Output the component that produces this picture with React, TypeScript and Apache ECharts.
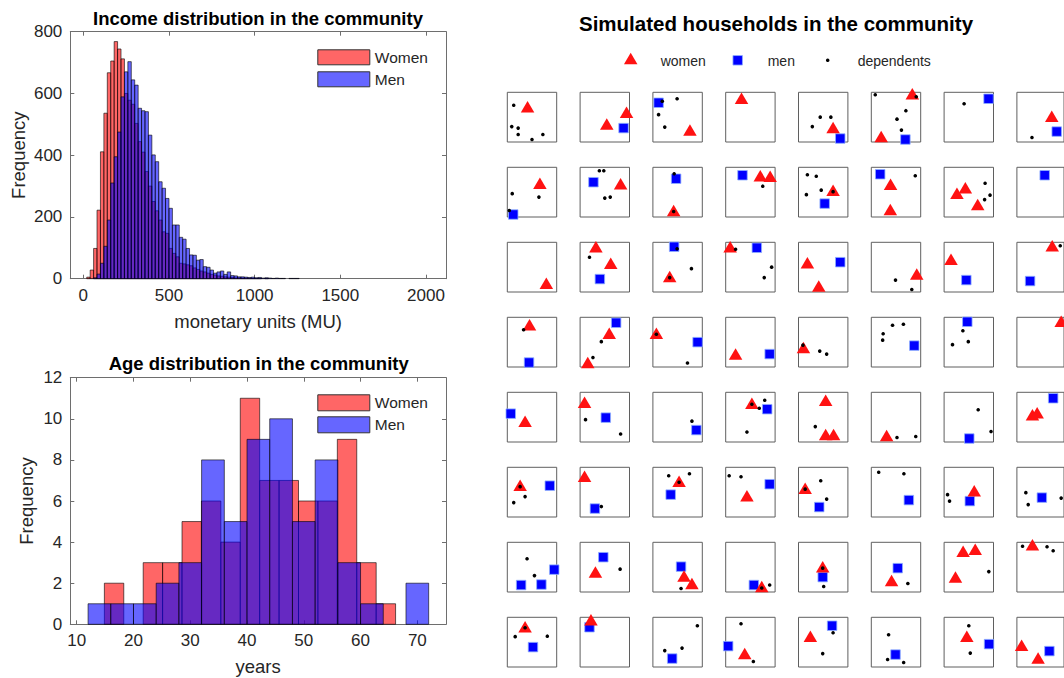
import React, { useEffect, useRef } from "react";
import * as echarts from "echarts";

const FONT = "'Liberation Sans', Arial, Helvetica, sans-serif";
const TXT = "#262626";
const AXC = "#6e6e6e";

// ---------- Income histogram (bins of 20 MU starting at 20) ----------
const INCOME_BIN_START = 20;
const INCOME_BIN_WIDTH = 20;
const INCOME_WOMEN = [
  5, 28, 98, 222, 411, 536, 667, 705, 768, 744, 712, 600, 578, 565, 503, 444, 410, 347, 300, 250,
  220, 190, 152, 147, 98, 82, 71, 50, 48, 45, 42, 35, 30, 25, 22, 18, 14, 12, 9, 8,
  6, 5, 4, 3, 3, 2, 2, 1, 1, 1, 1, 0, 1,
];
const INCOME_MEN = [
  0, 0, 3, 15, 50, 105, 190, 310, 395, 475, 589, 670, 703, 644, 627, 552, 544, 541, 465, 401,
  379, 314, 293, 260, 228, 174, 174, 134, 128, 98, 77, 76, 60, 62, 39, 37, 28, 18, 22, 25,
  14, 22, 10, 9, 6, 6, 5, 4, 5, 3, 4, 2, 3, 2, 1, 2, 1, 1, 0, 1, 1, 1,
];
const INCOME_X_TICKS = [0, 500, 1000, 1500, 2000];

// ---------- Age histogram ----------
const AGE_WOMEN_EDGES = [14.87, 18.29, 21.71, 25.13, 28.55, 31.97, 35.39, 38.81, 42.23, 45.65, 49.07, 52.49, 55.91, 59.33, 62.75, 66.17];
const AGE_WOMEN = [2, 0, 3, 3, 5, 6, 4, 11, 7, 7, 6, 6, 9, 3, 1];
const AGE_MEN_EDGES = [12, 16, 20, 24, 28, 32, 36, 40, 44, 48, 52, 56, 60, 64, 68, 72];
const AGE_MEN = [1, 1, 1, 2, 3, 8, 5, 9, 10, 5, 8, 3, 1, 0, 2];
const AGE_X_TICKS = [10, 20, 30, 40, 50, 60, 70];

// ---------- Simulated households (8 x 8, row-major, positions in box units 0..1) ----------
const HH_WOMEN = [
  [[0.41, 0.71]], [[0.94, 0.6], [0.54, 0.36]], [[0.75, 0.24]], [[0.32, 0.88]], [[0.7, 0.29]], [[0.83, 0.97], [0.2, 0.11]], [], [[0.74, 0.52]],
  [[0.66, 0.68]], [[0.82, 0.67]], [[0.42, 0.13]], [[0.7, 0.83], [0.9, 0.82]], [[0.7, 0.54]], [[0.39, 0.66], [0.385, 0.15]], [[0.43, 0.59], [0.26, 0.48], [0.68, 0.25]], [],
  [[0.79, 0.175]], [[0.32, 0.91], [0.62, 0.58]], [[0.34, 0.31]], [[0.09, 0.91]], [[0.18, 0.59], [0.41, 0.12]], [[0.92, 0.36]], [[0.14, 0.66]], [[0.75, 0.93]],
  [[0.45, 0.85]], [[0.59, 0.68], [0.155, 0.09]], [[0.07, 0.68]], [[0.2, 0.26]], [[0.1, 0.39]], [], [], [[0.94, 0.92]],
  [[0.36, 0.42]], [[0.09, 0.8]], [], [[0.53, 0.78]], [[0.55, 0.84], [0.55, 0.15], [0.71, 0.15]], [[0.31, 0.13]], [], [[0.33, 0.55], [0.43, 0.59]],
  [[0.26, 0.64]], [[0.09, 0.82]], [[0.53, 0.72]], [[0.43, 0.43]], [[0.135, 0.58]], [], [[0.61, 0.53]], [],
  [], [[0.31, 0.4]], [[0.63, 0.32], [0.79, 0.17]], [[0.73, 0.11]], [[0.49, 0.51]], [[0.41, 0.23]], [[0.385, 0.82], [0.63, 0.86], [0.23, 0.3]], [[0.33, 0.95]],
  [[0.36, 0.81]], [[0.22, 0.95]], [], [[0.385, 0.27]], [[0.24, 0.62]], [], [[0.46, 0.62]], [[0.1, 0.44], [0.45, 0.18]],
];
const HH_MEN = [
  [], [[0.88, 0.28]], [[0.115, 0.79]], [], [[0.845, 0.07]], [[0.69, 0.05]], [[0.9, 0.87]], [[0.845, 0.21]],
  [[0.12, 0.05]], [[0.27, 0.7]], [[0.47, 0.77]], [[0.34, 0.84]], [[0.53, 0.27]], [[0.18, 0.86]], [], [[0.59, 0.84]],
  [], [[0.4, 0.26]], [[0.43, 0.91]], [[0.63, 0.89]], [[0.845, 0.6]], [], [[0.45, 0.24]], [[0.28, 0.22]],
  [[0.44, 0.09]], [[0.73, 0.89]], [[0.905, 0.5]], [[0.89, 0.26]], [], [[0.87, 0.43]], [[0.47, 0.91]], [],
  [[0.07, 0.57]], [[0.52, 0.49]], [[0.88, 0.24]], [[0.84, 0.66]], [], [], [[0.51, 0.07]], [[0.77, 0.88]],
  [[0.86, 0.63]], [[0.3, 0.17]], [[0.36, 0.45]], [[0.89, 0.66]], [[0.42, 0.2]], [[0.76, 0.34]], [[0.52, 0.32]], [[0.53, 0.39]],
  [[0.95, 0.45], [0.28, 0.14], [0.69, 0.15]], [[0.47, 0.7]], [[0.57, 0.51]], [[0.57, 0.14]], [[0.49, 0.3]], [[0.535, 0.48]], [], [],
  [[0.52, 0.4]], [[0.19, 0.8]], [[0.39, 0.17]], [[0.05, 0.42]], [[0.68, 0.83]], [[0.49, 0.25]], [[0.91, 0.46]], [[0.69, 0.32]],
];
const HH_DEPENDENTS = [
  [[0.13, 0.74], [0.09, 0.31], [0.22, 0.28], [0.22, 0.15], [0.5, 0.05], [0.72, 0.15]], [], [[0.19, 0.82], [0.49, 0.87], [0.115, 0.55], [0.24, 0.3]], [], [[0.44, 0.5], [0.655, 0.5], [0.28, 0.31]], [[0.08, 0.95], [0.91, 0.91], [0.7, 0.63], [0.52, 0.46], [0.61, 0.24]], [[0.405, 0.77]], [[0.32, 0.09]],
  [[0.1, 0.47], [0.64, 0.4], [0.04, 0.13]], [[0.39, 0.93], [0.48, 0.93], [0.5, 0.38], [0.61, 0.4]], [[0.43, 0.87], [0.42, 0.11]], [[0.75, 0.62]], [[0.18, 0.85], [0.36, 0.82], [0.16, 0.45], [0.46, 0.54], [0.7, 0.51]], [[0.89, 0.83]], [[0.83, 0.68], [0.93, 0.44], [0.82, 0.35]], [],
  [], [[0.19, 0.7]], [[0.49, 0.87], [0.78, 0.47], [0.34, 0.29]], [[0.2, 0.86], [0.93, 0.5], [0.78, 0.29]], [], [[0.49, 0.24], [0.82, 0.05]], [], [[0.92, 0.93]],
  [[0.33, 0.75]], [[0.43, 0.51], [0.26, 0.19]], [[0.07, 0.66], [0.7, 0.08]], [], [[0.09, 0.44], [0.43, 0.32], [0.57, 0.26]], [[0.43, 0.84], [0.65, 0.86], [0.24, 0.67], [0.23, 0.54]], [[0.38, 0.73], [0.17, 0.45], [0.49, 0.51]], [],
  [], [[0.11, 0.45], [0.82, 0.16]], [[0.79, 0.42]], [[0.53, 0.76], [0.68, 0.68], [0.79, 0.84], [0.43, 0.2]], [[0.34, 0.31]], [[0.52, 0.09], [0.9, 0.11]], [[0.69, 0.65], [0.95, 0.21]], [],
  [[0.26, 0.61], [0.36, 0.41], [0.13, 0.29]], [[0.43, 0.21]], [[0.32, 0.83], [0.74, 0.87], [0.53, 0.7]], [[0.07, 0.83], [0.31, 0.81]], [[0.45, 0.73], [0.135, 0.56], [0.57, 0.36]], [[0.15, 0.9], [0.66, 0.87]], [[0.07, 0.45], [0.11, 0.32]], [[0.19, 0.49], [0.24, 0.25], [0.94, 0.38]],
  [[0.4, 0.67], [0.55, 0.33]], [[0.81, 0.46]], [[0.57, 0.07]], [[0.73, 0.08], [0.89, 0.14]], [[0.49, 0.48], [0.51, 0.11]], [[0.74, 0.17]], [[0.905, 0.41]], [[0.12, 0.92], [0.64, 0.91], [0.77, 0.83]],
  [[0.36, 0.79], [0.16, 0.61], [0.81, 0.62]], [], [[0.9, 0.83], [0.59, 0.38], [0.24, 0.33]], [[0.31, 0.87], [0.56, 0.11]], [[0.7, 0.69], [0.49, 0.27]], [[0.35, 0.65], [0.33, 0.15], [0.655, 0.09]], [[0.5, 0.83], [0.53, 0.28]], [],
];
const HH_LEGEND_LABELS = ["women", "men", "dependents"];

// ---------- styling ----------
const WOMEN_FILL = "rgba(255,0,0,0.6)";
const MEN_FILL = "rgba(0,0,255,0.6)";
const BAR_EDGE = "rgba(0,0,0,0.8)";
const TRI_COLOR = "#ff1212";
const SQ_COLOR = "#0000ff";
const TRI_SIZE = [13.5, 11.5];
const SQ_SIZE = 9.5;
const DOT_SIZE = 3.6;

const HH_COLS = 8;
const HH_LEFT0 = 507.3;
const HH_DX = 72.8;
const HH_TOP0 = 92.3;
const HH_DY = 75;
const HH_W = 49.4;
const HH_H = 49.7;

function histRenderer(fill: string) {
  return (params: any, api: any) => {
    const lo = api.value(0);
    const hi = api.value(1);
    const c = api.value(2);
    if (!c) return null;
    const a = api.coord([lo, c]);
    const b = api.coord([hi, 0]);
    return {
      type: "rect",
      shape: { x: a[0], y: a[1], width: b[0] - a[0], height: b[1] - a[1] },
      style: { fill, stroke: BAR_EDGE, lineWidth: 0.75 },
    };
  };
}

function boxAxes(gridIndex: number, xmin: number, xmax: number, ymin: number, ymax: number, yInterval: number, xTicks: number[], xName: string, yNameGap: number) {
  const line = { show: true, onZero: false, lineStyle: { color: AXC, width: 1 } };
  const tick = { show: true, inside: true, length: 4, lineStyle: { color: AXC, width: 1 } };
  const xa = [
    {
      type: "value", gridIndex, min: xmin, max: xmax, position: "bottom",
      axisLine: line,
      axisTick: { ...tick, customValues: xTicks },
      axisLabel: { customValues: xTicks, color: TXT, fontSize: 17, margin: 8, fontFamily: FONT, formatter: (v: number) => String(v) },
      splitLine: { show: false },
      name: xName, nameLocation: "middle", nameGap: 33,
      nameTextStyle: { fontSize: 18.5, color: TXT, fontFamily: FONT },
    },
    {
      type: "value", gridIndex, min: xmin, max: xmax, position: "top",
      axisLine: line,
      axisTick: { ...tick, customValues: xTicks },
      axisLabel: { show: false, customValues: xTicks },
      splitLine: { show: false },
    },
  ];
  const ya = [
    {
      type: "value", gridIndex, min: ymin, max: ymax, interval: yInterval, position: "left",
      axisLine: line, axisTick: tick,
      axisLabel: { color: TXT, fontSize: 17, margin: 8, fontFamily: FONT },
      splitLine: { show: false },
      name: "Frequency", nameLocation: "middle", nameGap: yNameGap,
      nameTextStyle: { fontSize: 18.5, color: TXT, fontFamily: FONT },
    },
    {
      type: "value", gridIndex, min: ymin, max: ymax, interval: yInterval, position: "right",
      axisLine: line, axisTick: tick, axisLabel: { show: false }, splitLine: { show: false },
    },
  ];
  return { xa, ya };
}

function householdLegend() {
  // icons + labels above the household grid
  const cy = 60.3;
  const textStyle = (text: string, x: number) => ({
    type: "text",
    style: { text, x, y: cy + 0.5, fill: TXT, fontSize: 14, fontFamily: FONT, align: "left", verticalAlign: "middle" },
    silent: true,
  });
  const triX = 630.7;
  const sqX = 737.7;
  const dotX = 827.7;
  return [
    {
      type: "polygon",
      shape: {
        points: [
          [triX - TRI_SIZE[0] / 2, cy - 1.8 + TRI_SIZE[1] / 2],
          [triX + TRI_SIZE[0] / 2, cy - 1.8 + TRI_SIZE[1] / 2],
          [triX, cy - 1.8 - TRI_SIZE[1] / 2],
        ],
      },
      style: { fill: TRI_COLOR },
      silent: true,
    },
    textStyle(HH_LEGEND_LABELS[0], triX + 30),
    {
      type: "rect",
      shape: { x: sqX - SQ_SIZE / 2, y: cy - SQ_SIZE / 2, width: SQ_SIZE, height: SQ_SIZE },
      style: { fill: SQ_COLOR, stroke: "#8fb0ff", lineWidth: 0.8 },
      silent: true,
    },
    textStyle(HH_LEGEND_LABELS[1], sqX + 30),
    {
      type: "circle",
      shape: { cx: dotX, cy, r: DOT_SIZE / 2 },
      style: { fill: "#000" },
      silent: true,
    },
    textStyle(HH_LEGEND_LABELS[2], dotX + 30),
  ];
}

function buildOption() {
  const grids: any[] = [
    { left: 70.3, top: 31.7, width: 375.7, height: 247 },
    { left: 70.3, top: 377.7, width: 375.7, height: 246.6 },
  ];
  const inc = boxAxes(0, -76, 2117, 0, 800, 200, INCOME_X_TICKS, "monetary units (MU)", 42);
  const age = boxAxes(1, 8.87, 75.05, 0, 12, 2, AGE_X_TICKS, "years", 34);
  const xAxis: any[] = [...inc.xa, ...age.xa];
  const yAxis: any[] = [...inc.ya, ...age.ya];

  const incomeRows = (counts: number[]) =>
    counts.map((c, i) => [INCOME_BIN_START + i * INCOME_BIN_WIDTH, INCOME_BIN_START + (i + 1) * INCOME_BIN_WIDTH, c]);
  const ageRows = (edges: number[], counts: number[]) => counts.map((c, i) => [edges[i], edges[i + 1], c]);

  const series: any[] = [
    {
      type: "custom", name: "Women", xAxisIndex: 0, yAxisIndex: 0,
      data: incomeRows(INCOME_WOMEN), encode: { x: [0, 1], y: 2 },
      renderItem: histRenderer(WOMEN_FILL), itemStyle: { color: WOMEN_FILL }, silent: true,
    },
    {
      type: "custom", name: "Men", xAxisIndex: 0, yAxisIndex: 0,
      data: incomeRows(INCOME_MEN), encode: { x: [0, 1], y: 2 },
      renderItem: histRenderer(MEN_FILL), itemStyle: { color: MEN_FILL }, silent: true,
    },
    {
      type: "custom", name: "Women", xAxisIndex: 2, yAxisIndex: 2,
      data: ageRows(AGE_WOMEN_EDGES, AGE_WOMEN), encode: { x: [0, 1], y: 2 },
      renderItem: histRenderer(WOMEN_FILL), itemStyle: { color: WOMEN_FILL }, silent: true,
    },
    {
      type: "custom", name: "Men", xAxisIndex: 2, yAxisIndex: 2,
      data: ageRows(AGE_MEN_EDGES, AGE_MEN), encode: { x: [0, 1], y: 2 },
      renderItem: histRenderer(MEN_FILL), itemStyle: { color: MEN_FILL }, silent: true,
    },
  ];

  const nHH = HH_WOMEN.length;
  for (let i = 0; i < nHH; i++) {
    const r = Math.floor(i / HH_COLS);
    const c = i % HH_COLS;
    grids.push({
      left: HH_LEFT0 + c * HH_DX, top: HH_TOP0 + r * HH_DY, width: HH_W, height: HH_H,
      show: true, borderColor: "#5f5f5f", borderWidth: 1, backgroundColor: "transparent",
    });
    const gi = grids.length - 1;
    xAxis.push({ type: "value", gridIndex: gi, min: 0, max: 1, show: false });
    yAxis.push({ type: "value", gridIndex: gi, min: 0, max: 1, show: false });
    const ax = xAxis.length - 1;
    const data = [
      ...HH_MEN[i].map((p) => ({
        value: p, symbol: "rect", symbolSize: SQ_SIZE,
        itemStyle: { color: SQ_COLOR, borderColor: "#8fb0ff", borderWidth: 0.8, opacity: 1 },
      })),
      ...HH_WOMEN[i].map((p) => ({
        value: p, symbol: "triangle", symbolSize: TRI_SIZE,
        itemStyle: { color: TRI_COLOR, opacity: 1 },
      })),
      ...HH_DEPENDENTS[i].map((p) => ({
        value: p, symbol: "circle", symbolSize: DOT_SIZE, itemStyle: { color: "#000", opacity: 1 },
      })),
    ];
    series.push({
      type: "scatter", name: "household " + (i + 1), xAxisIndex: ax, yAxisIndex: ax,
      data, clip: false, silent: true, itemStyle: { opacity: 1 },
    });
  }

  const histLegend = (top: number, h: number, gap: number) => ({
    data: [
      { name: "Women", icon: "rect", itemStyle: { color: WOMEN_FILL, borderColor: "#333", borderWidth: 1 } },
      { name: "Men", icon: "rect", itemStyle: { color: MEN_FILL, borderColor: "#333", borderWidth: 1 } },
    ],
    orient: "vertical", left: 317.3, top, itemWidth: 52, itemHeight: h, itemGap: gap, padding: 0,
    selectedMode: false, textStyle: { fontSize: 15.5, color: TXT, fontFamily: FONT },
  });

  return {
    animation: false,
    backgroundColor: "#ffffff",
    textStyle: { fontFamily: FONT },
    title: [
      { text: "Income distribution in the community", left: 258, top: 9, textAlign: "center", padding: 0, textStyle: { fontSize: 18.5, fontWeight: "bold", color: "#000", fontFamily: FONT } },
      { text: "Age distribution in the community", left: 258.7, top: 354, textAlign: "center", padding: 0, textStyle: { fontSize: 18.5, fontWeight: "bold", color: "#000", fontFamily: FONT } },
      { text: "Simulated households in the community", left: 776, top: 12.5, textAlign: "center", padding: 0, textStyle: { fontSize: 20.5, fontWeight: "bold", color: "#000", fontFamily: FONT } },
    ],
    legend: [histLegend(49.3, 15, 6), histLegend(394.3, 16, 5)],
    graphic: householdLegend(),
    grid: grids,
    xAxis,
    yAxis,
    series,
  };
}

export default function App() {
  const ref = useRef<HTMLDivElement>(null);
  useEffect(() => {
    if (!ref.current) return;
    const chart = echarts.init(ref.current, undefined, { renderer: "svg" });
    chart.setOption(buildOption() as any);
    return () => chart.dispose();
  }, []);
  return (
    <div
      ref={ref}
      style={{ position: "fixed", left: 0, top: 0, width: 1064, height: 678, background: "#fff" }}
    />
  );
}
